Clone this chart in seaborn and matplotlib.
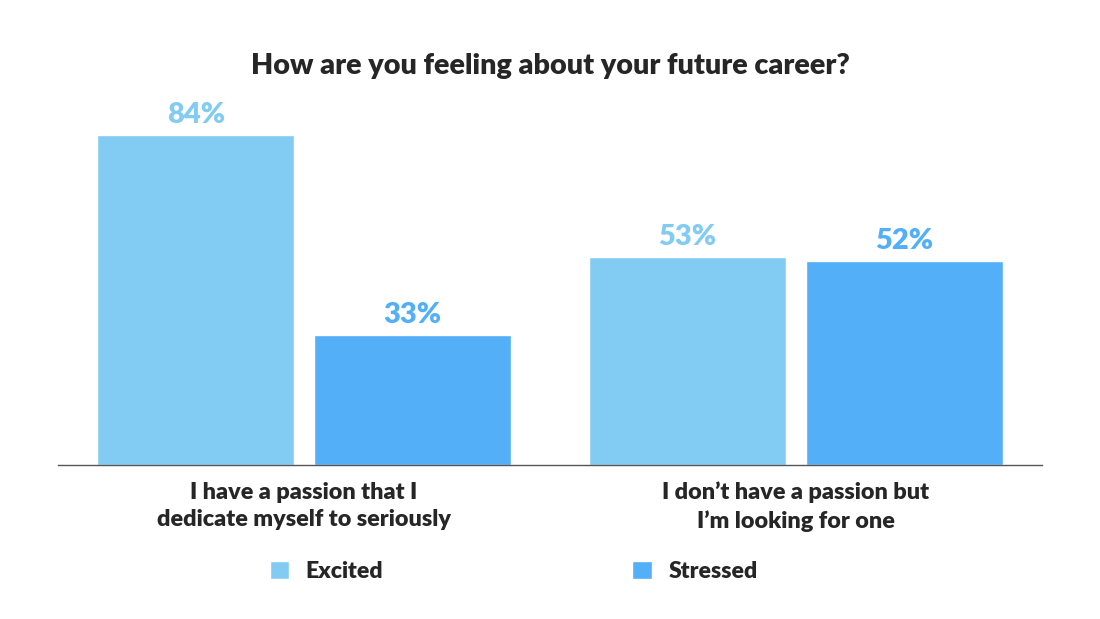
import matplotlib
matplotlib.use('Agg')
import matplotlib.pyplot as plt
import pandas as pd
import seaborn as sns

# data
groups = ['I have a passion that I\ndedicate myself to seriously',
          'I don\u2019t have a passion but\nI\u2019m looking for one']
feelings = ['Excited', 'Stressed']
excited = [84, 53]
stressed = [33, 52]
colors = ['#82CBF2', '#52AFF8']

df = pd.DataFrame({
    'group': groups * 2,
    'feeling': ['Excited'] * 2 + ['Stressed'] * 2,
    'value': excited + stressed,
})

sns.set_style('white')
plt.rcParams['font.family'] = ['Lato', 'DejaVu Sans']
W = 'heavy'

fig = plt.figure(figsize=(11, 6.19), dpi=100)
ax = fig.add_axes([0.0527, 0.2488, 0.8945, 0.5897])

sns.barplot(data=df, x='group', y='value', hue='feeling', hue_order=feelings,
            palette=colors, width=0.88, gap=0.09, saturation=1, ax=ax)

# value labels above bars, same colour as the bar
for cont, c in zip(ax.containers, colors):
    ax.bar_label(cont, fmt='%d%%', padding=5, color=c, fontsize=21, fontweight=W)

ax.set_ylim(0, 92.9)
ax.set_xlim(-0.5, 1.5)
ax.set_xlabel('')
ax.set_ylabel('')
ax.set_yticks([])
for s in ['top', 'right', 'left']:
    ax.spines[s].set_visible(False)
ax.spines['bottom'].set_color('#555555')
ax.spines['bottom'].set_linewidth(1)
ax.tick_params(axis='x', length=0, pad=12)
for lbl in ax.get_xticklabels():
    lbl.set_fontsize(16.8)
    lbl.set_fontweight(W)
    lbl.set_linespacing(1.4)

fig.suptitle('How are you feeling about your future career?', y=0.914, fontsize=20.7,
             fontweight=W)

sns.move_legend(ax, 'center', bbox_to_anchor=(0.467, 0.077), bbox_transform=fig.transFigure,
                ncol=2, frameon=False, title=None, handlelength=0.85, handleheight=0.85,
                handletextpad=0.72, columnspacing=10.8,
                prop={'weight': W, 'size': 16.6})

fig.savefig('out.png', dpi=100)
